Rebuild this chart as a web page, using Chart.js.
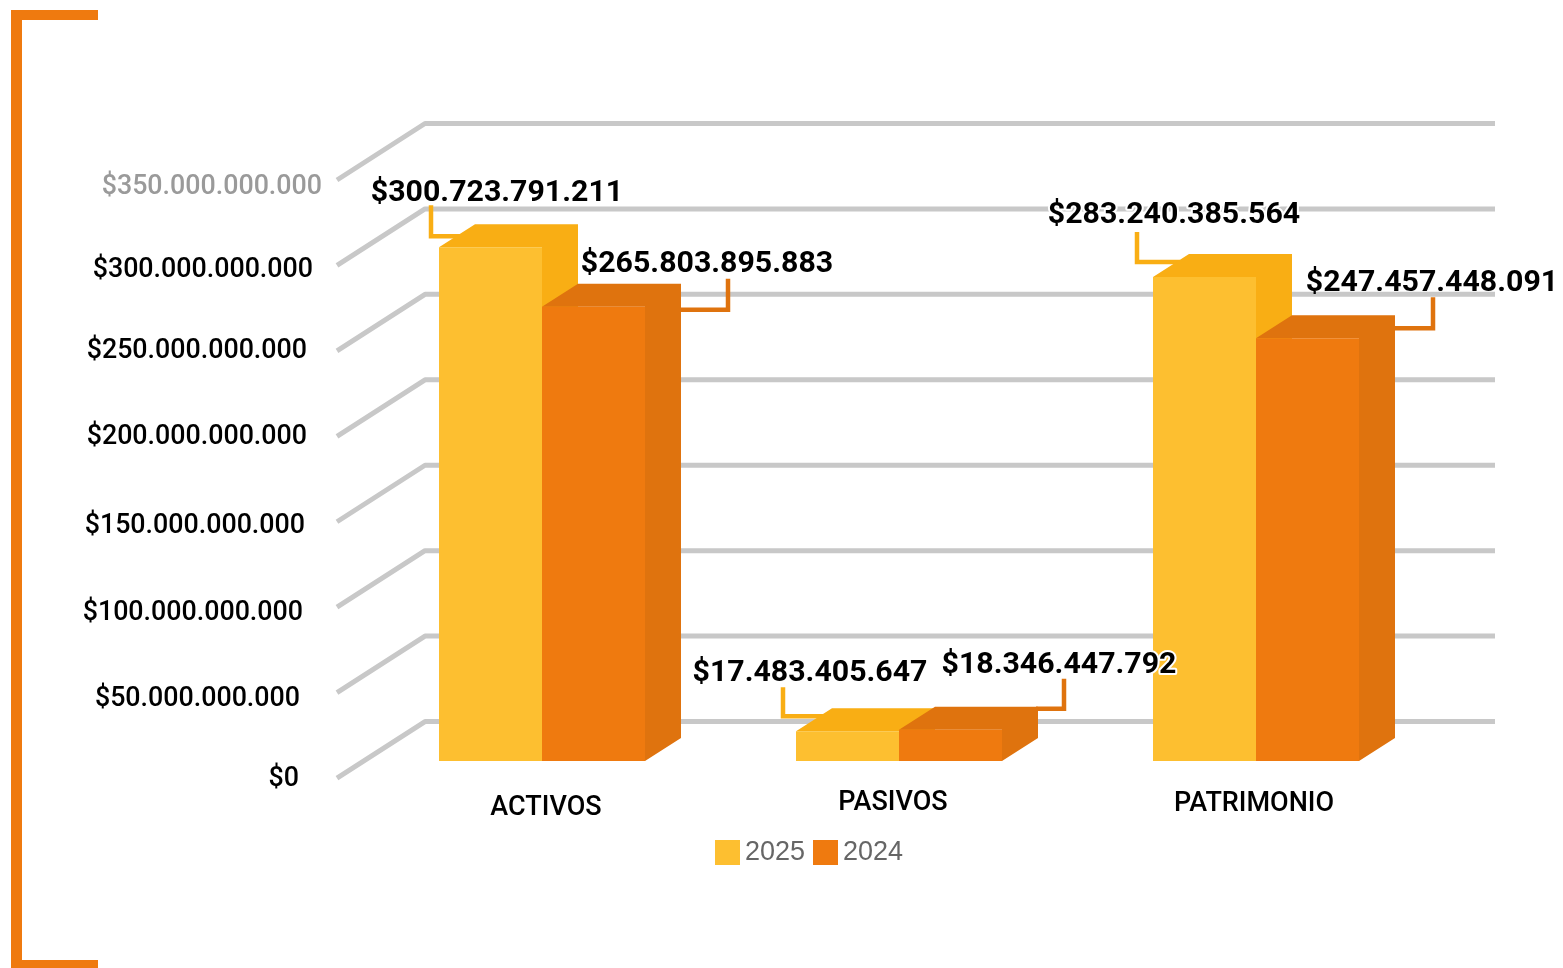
<!DOCTYPE html>
<html lang="es">
<head>
<meta charset="utf-8">
<title>Activos, pasivos y patrimonio</title>
<style>html,body{margin:0;padding:0;background:#fff}canvas{display:block}</style>
<script src="https://cdn.jsdelivr.net/npm/chart.js@4"></script>
</head>
<body>
<canvas id="c" width="1563" height="968"></canvas>
<script>
const categories = ['ACTIVOS', 'PASIVOS', 'PATRIMONIO'];
const series2025 = [300723791211, 17483405647, 283240385564];
const series2024 = [265803895883, 18346447792, 247457448091];
const yTickLabels = ['$0', '$50.000.000.000', '$100.000.000.000', '$150.000.000.000',
  '$200.000.000.000', '$250.000.000.000', '$300.000.000.000', '$350.000.000.000'];

// Placement of the hand-positioned text, relative to the axis / bar it belongs to
const yTickRight = [299, 300, 303, 305, 307, 307, 313, 322];
const yTickShift = [18, 24, 23, 22, 18, 17, 22, 24];
const xTickShift = [[4, 808], [-6, 803], [-2, 804]];
const labelShift = [
  [[6.5, -54], [-37.5, -58], [-30.5, -62]],
  [[113.5, -42], [108.5, -64], [124.5, -55]]
];
const leaderShift = [
  [[[-59.5, -42], [-59.5, -11], [-25.5, -11]], [[-64.5, -44], [-64.5, -15], [-24.5, -15]], [[-67.5, -45], [-67.5, -15], [-24.5, -15]]],
  [[[87.5, 3], [134.5, 3], [134.5, -28]], [[85.5, -21], [113.5, -21], [113.5, -51]], [[86.5, -10], [125.5, -10], [125.5, -41]]]
];
const labelHalo = [[false, false, true], [false, true, false]];

const FRONT = ['#FDBF30', '#EF7A0F'];
const SHADE = ['#F9AE14', '#DF730E'];
const GRID = '#C8C8C8';
const ORANGE = '#EF7A0F';
const DEPTH_X = 36, DEPTH_Y = 23;

function swatch(color) {
  const s = document.createElement('canvas');
  s.width = 25; s.height = 25;
  const g = s.getContext('2d');
  g.fillStyle = color;
  g.fillRect(0, 0, 25, 25);
  return s;
}
const swatches = FRONT.map(swatch);

function dotted(v) {
  return '$' + String(v).replace(/\B(?=(\d{3})+$)/g, '.');
}

const scene = {
  id: 'scene',
  afterLayout(chart) {
    // the legend is centred under the plot, not under the whole canvas
    chart.legend.left = 192;
    chart.legend.right = 1434.5;
  },
  beforeDraw(chart) {
    const g = chart.ctx;
    // frame bracket
    g.fillStyle = ORANGE;
    g.fillRect(11, 10, 11, 958);
    g.fillRect(11, 10, 87, 10);
    g.fillRect(11, 960, 87, 8);

    // nudge native tick labels into place
    const y = chart.scales.y, x = chart.scales.x;
    y.getLabelItems().forEach((it, i) => {
      it.options.translation = [yTickRight[i], y.getPixelForTick(i) + yTickShift[i]];
      it.options.textAlign = 'right';
      it.options.textBaseline = 'middle';
      it.textOffset = 0;
    });
    x.getLabelItems().forEach((it, i) => {
      it.options.translation = [x.getPixelForTick(i) + xTickShift[i][0], xTickShift[i][1]];
      it.options.textAlign = 'center';
      it.options.textBaseline = 'middle';
      it.textOffset = 0;
    });
  },
  beforeDatasetsDraw(chart) {
    const g = chart.ctx, y = chart.scales.y;
    // receding floor + back wall grid
    g.save();
    g.strokeStyle = GRID;
    g.lineWidth = 5;
    g.lineJoin = 'round';
    y.ticks.forEach(t => {
      const p = y.getPixelForValue(t.value);
      g.beginPath();
      g.moveTo(337, p + 17);
      g.lineTo(425, p - 39.5);
      g.lineTo(1495, p - 39.5);
      g.stroke();
    });
    g.restore();

    // leader lines
    chart.data.datasets.forEach((ds, d) => {
      chart.getDatasetMeta(d).data.forEach((bar, i) => {
        g.save();
        g.strokeStyle = SHADE[d];
        g.lineWidth = 4.5;
        g.lineJoin = 'miter';
        g.beginPath();
        leaderShift[d][i].forEach((pt, k) => {
          const px = bar.x + pt[0], py = bar.y + pt[1];
          if (k) g.lineTo(px, py); else g.moveTo(px, py);
        });
        g.stroke();
        g.restore();
      });
    });

    // extruded side and top faces
    chart.data.datasets.forEach((ds, d) => {
      chart.getDatasetMeta(d).data.forEach(bar => {
        const l = bar.x - bar.width / 2, r = bar.x + bar.width / 2, t = bar.y, b = bar.base;
        g.fillStyle = SHADE[d];
        g.beginPath();
        g.moveTo(l, t);
        g.lineTo(l + DEPTH_X, t - DEPTH_Y);
        g.lineTo(r + DEPTH_X, t - DEPTH_Y);
        g.lineTo(r + DEPTH_X, b - DEPTH_Y);
        g.lineTo(r, b);
        g.lineTo(r, t);
        g.closePath();
        g.fill();
      });
    });
  },
  afterDatasetsDraw(chart) {
    const g = chart.ctx;
    g.save();
    g.font = 'bold 30.3px Roboto';
    g.textAlign = 'center';
    g.textBaseline = 'middle';
    g.lineJoin = 'round';
    chart.data.datasets.forEach((ds, d) => {
      chart.getDatasetMeta(d).data.forEach((bar, i) => {
        const tx = bar.x + labelShift[d][i][0], ty = bar.y + labelShift[d][i][1];
        const text = dotted(ds.data[i]);
        if (labelHalo[d][i]) {
          g.strokeStyle = '#fff';
          g.lineWidth = 4;
          g.strokeText(text, tx, ty);
        }
        g.fillStyle = '#000';
        g.fillText(text, tx, ty);
      });
    });
    g.restore();
  }
};

new Chart(document.getElementById('c'), {
  type: 'bar',
  data: {
    labels: categories,
    datasets: [
      { label: '2025', data: series2025, backgroundColor: FRONT[0], borderWidth: 0 },
      { label: '2024', data: series2024, backgroundColor: FRONT[1], borderWidth: 0 }
    ]
  },
  options: {
    responsive: false,
    animation: false,
    events: [],
    layout: { padding: { left: 50, right: 128.5, top: 163, bottom: 92.45 } },
    datasets: { bar: { categoryPercentage: 206 / 357, barPercentage: 1 } },
    scales: {
      x: {
        offset: true,
        grid: { display: false },
        border: { display: false },
        ticks: {
          maxRotation: 0, minRotation: 0, autoSkip: false,
          color: '#000',
          font: { family: 'Roboto', size: 27, weight: '500' }
        },
        afterFit(s) { s.height = 61; }
      },
      y: {
        min: 0, max: 350000000000,
        grid: { display: false },
        border: { display: false },
        ticks: {
          stepSize: 50000000000,
          autoSkip: false,
          color: c => (c.index === yTickLabels.length - 1 ? '#9a9a9a' : '#000'),
          font: { family: 'Roboto', size: 26.8, weight: '500' },
          callback: (v, i) => yTickLabels[i]
        },
        afterFit(s) { s.width = 313.5; }
      }
    },
    plugins: {
      tooltip: { enabled: false },
      title: { display: false },
      legend: {
        position: 'bottom',
        labels: {
          usePointStyle: true,
          pointStyleWidth: 8,
          padding: 16.5,
          color: '#666',
          font: { family: 'Liberation Sans', size: 27, lineHeight: 1.22 },
          generateLabels: chart => chart.data.datasets.map((ds, i) => ({
            text: ds.label,
            datasetIndex: i,
            fontColor: '#666',
            pointStyle: swatches[i],
            lineWidth: 0,
            hidden: false
          }))
        }
      }
    }
  },
  plugins: [scene]
});
</script>
</body>
</html>
